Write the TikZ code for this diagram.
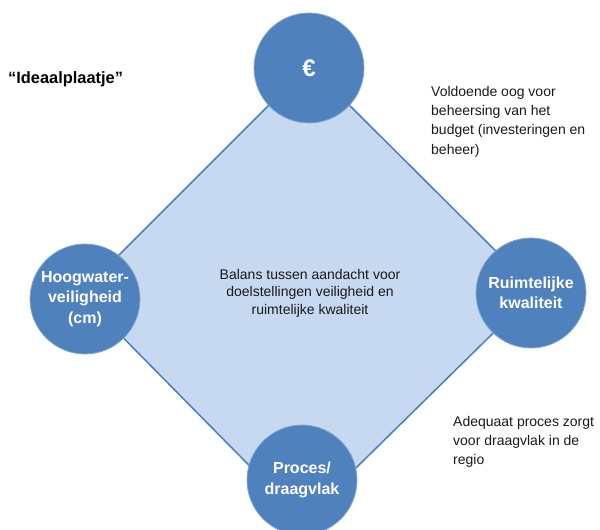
\documentclass[tikz,border=0pt]{standalone}
\usepackage{fontspec}
\setmainfont{Liberation Sans}

\definecolor{ballblue}{HTML}{4F81BD}
\definecolor{fieldblue}{HTML}{C6D9F1}
\definecolor{edgeblue}{HTML}{4A7EBB}

\tikzset{
	ball/.style={circle, fill=ballblue, draw=ballblue!70!white, line width=0.8pt,
		minimum size=110pt, inner sep=0pt, text=white, align=center,
		font=\fontsize{16}{20.3}\selectfont\bfseries},
	note/.style={anchor=north west, inner sep=0pt, align=left, text=black!90,
		font=\fontsize{14}{19.3}\selectfont}
}

\begin{document}
\begin{tikzpicture}[x=1pt,y=-1pt]
	\useasboundingbox (0,0) rectangle (600,530);

	% The diamond
	\coordinate (top) at (309,65);
	\coordinate (right) at (536,291);
	\coordinate (bottom) at (303,520);
	\coordinate (left) at (80,294);
	\draw[fill=fieldblue, draw=edgeblue, line width=1.5pt] (top) -- (right) -- (bottom) -- (left) -- cycle;

	% Centre text
	\node[align=center, inner sep=0pt, text=black!90, font=\fontsize{14}{17.5}\selectfont] (balans) at (310,293)
		{Balans tussen aandacht voor\\doelstellingen veiligheid en\\ruimtelijke kwaliteit};

	% The circles
	\node[ball] (budget) at (309,68) {\fontsize{24}{24}\selectfont €};
	\node[ball] (hoogwater) at (85,299) {Hoogwater-\\veiligheid\\(cm)};
	\node[ball] (ruimte) at (531,293) {Ruimtelijke\\kwaliteit};
	\node[ball] (proces) at (302,480) {Proces/\\draagvlak};

	% Title
	\node[anchor=base west, inner sep=0pt, font=\fontsize{16.4}{20}\selectfont\bfseries] (titel) at (8,83) {“Ideaalplaatje”};

	% Notes
	\node[note] (budgetnote) at (431,86) {Voldoende oog voor\\beheersing van het\\budget (investeringen en\\beheer)};
	\node[note] (procesnote) at (453,416) {Adequaat proces zorgt\\voor draagvlak in de\\regio};

\end{tikzpicture}
\end{document}
